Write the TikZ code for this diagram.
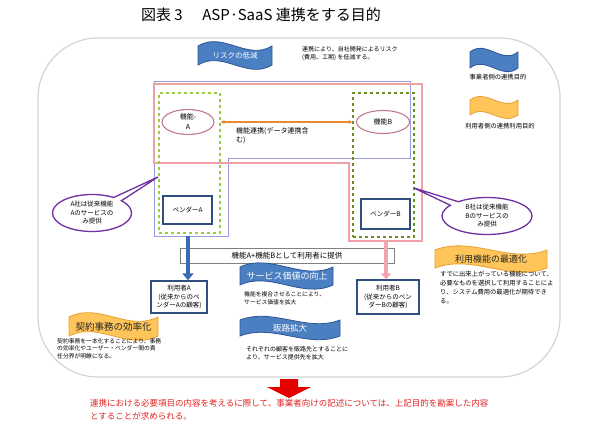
\documentclass[tikz,border=0pt]{standalone}
\usepackage{fontspec}
\setmainfont{Noto Sans CJK JP}
\usetikzlibrary{shapes.geometric,shapes.callouts,arrows.meta,calc}
\definecolor{bannerblue}{HTML}{4A7FC1}
\definecolor{bannerblueline}{HTML}{2F5597}
\definecolor{bannerorange}{HTML}{FFC55A}
\definecolor{bannerorangeline}{HTML}{E8A030}
\definecolor{boxblue}{HTML}{2F4F7F}
\definecolor{lav}{HTML}{9A9ADF}
\definecolor{pinkl}{HTML}{F0A0A8}
\definecolor{ellline}{HTML}{C07A8A}
\definecolor{greenA}{HTML}{99CC44}
\definecolor{greenB}{HTML}{6B8E23}
\definecolor{calloutpurple}{HTML}{7030A0}
\definecolor{arrorange}{HTML}{E88A30}
\definecolor{redtxt}{HTML}{E02020}
\definecolor{framegray}{HTML}{D4D4D4}
\definecolor{arrblue}{HTML}{3A6BB5}
\definecolor{arrpink}{HTML}{F2A5AE}
\newcommand\fs[2]{\fontsize{#1}{#2}\selectfont}
\newcommand\wavebanner[5]{%
  \pgfmathsetmacro\wvA{#1+(#3-#1)/3}%
  \pgfmathsetmacro\wvB{#1+2*(#3-#1)/3}%
  \pgfmathsetmacro\wvH{(#4-#2)*0.8}%
  \draw[#5] (#1,#2) .. controls (\wvA,#2-\wvH) and (\wvB,#2+\wvH) .. (#3,#2)
    -- (#3,#4) .. controls (\wvB,#4+\wvH) and (\wvA,#4-\wvH) .. (#1,#4) -- cycle;}
\tikzset{
  bluebanner/.style={fill=bannerblue, draw=bannerblueline, line width=0.8pt},
  orangebanner/.style={fill=bannerorange, draw=bannerorangeline, line width=0.8pt},
  wtxt/.style={text=white, inner sep=0pt},
  otxt/.style={text=black!85, inner sep=0pt},
  desc/.style={align=left, anchor=north west, inner sep=0pt},
  bluebox/.style={draw=boxblue, line width=1.3pt, fill=white, align=center, inner sep=0pt, font=\fs{6.5}{8.5}},
  func/.style={ellipse, draw=ellline, line width=1.1pt, fill=white, inner sep=0pt, align=center, font=\fs{7}{10}},
  gdashA/.style={draw=greenA, dashed, line width=1.3pt, inner sep=0pt},
  gdashB/.style={draw=greenB, dashed, line width=1.3pt, inner sep=0pt},
  balloon/.style={ellipse callout, draw=calloutpurple, line width=1.3pt, fill=white, align=center, inner sep=0pt, font=\fs{6.5}{8.5}},
  widebox/.style={draw=gray, line width=0.8pt, fill=white, inner sep=0pt, font=\fs{7.5}{9}},
}
\begin{document}
\begin{tikzpicture}[x=1pt,y=-1pt]
\useasboundingbox (0,0) rectangle (600,436);
% title
\node[font=\fs{15}{18}] (title) at (261,15) {図表 3\hspace{1.3em}ASP·SaaS 連携をする目的};
% frame
\draw[framegray, line width=1.2pt, rounded corners=60pt] (38,38) rectangle (560,377);
% polygons
\draw[lav, line width=0.9pt] (154,81) -- (410,81) -- (410,158) -- (228,158) -- (228,236) -- (154,236) -- cycle;
\draw[pinkl, line width=1.4pt] (154,84) -- (422,84) -- (422,241) -- (349,241) -- (349,163) -- (154,163) -- cycle;
\coordinate (pAbot) at (188,236);
\coordinate (pBbot) at (386,241);
% green dashed boxes
\node[gdashA, minimum width=61pt, minimum height=140pt] (gA) at (189.5,163) {};
\node[gdashB, minimum width=61pt, minimum height=144pt] (gB) at (383.5,165) {};
% functions
\node[func, minimum width=52pt, minimum height=25pt] (fA) at (188,122) {機能-\\A};
\node[func, minimum width=53pt, minimum height=23pt] (fB) at (383,122) {機能B};
\draw[arrorange, line width=1.2pt, {Stealth[length=4pt,width=4pt]}-{Stealth[length=4pt,width=4pt]}] (gA.east |- fA) -- (gB.west |- fB);
\node[desc, font=\fs{7}{9.5}] (link) at (236,127) {機能連携(データ連携含\\む)};
% vendors
\node[bluebox, minimum width=49pt, minimum height=28pt] (vA) at (187.5,210) {ベンダーA};
\node[bluebox, minimum width=49pt, minimum height=30pt] (vB) at (385.5,214) {ベンダーB};
% wide box
\node[widebox, minimum width=214pt, minimum height=15pt] (prov) at (287,255.5) {機能A+機能Bとして利用者に提供};
% users
\node[bluebox, minimum width=56pt, minimum height=32pt] (uA) at (179,297) {利用者A\\(従来からのベ\\ンダーAの顧客)};
\node[bluebox, minimum width=62pt, minimum height=34pt] (uB) at (388,297) {利用者B\\(従来からのベン\\ダーBの顧客)};
% thick arrows
\draw[arrblue, line width=4.5pt, -{Triangle[width=11pt,length=7pt]}] (pAbot) -- (pAbot |- uA.north);
\draw[arrpink, line width=4pt, -{Triangle[width=10pt,length=6pt]}] (pBbot) -- (pBbot |- uB.north);
% callouts
\coordinate (tipA) at (158,177);
\coordinate (tipB) at (414,188);
\node[balloon, minimum width=79pt, minimum height=37pt, callout absolute pointer={(tipA)}] (cA) at (92,213) {A社は従来機能\\Aのサービスの\\み提供};
\node[balloon, minimum width=90pt, minimum height=37pt, callout absolute pointer={(tipB)}] (cB) at (487,216) {B社は従来機能\\Bのサービスの\\み提供};
% banners
\wavebanner{198}{46}{272}{65}{bluebanner}
\node[wtxt, font=\fs{7.5}{9}] (risk) at (235,55.5) {リスクの低減};
\node[desc, font=\fs{6}{8}] (riskd) at (302,46) {連携により、自社開発によるリスク\\(費用、工期) を低減する。};
\wavebanner{240}{267}{333}{285}{bluebanner}
\node[wtxt, font=\fs{9}{10}] (sv) at (287,276) {サービス価値の向上};
\node[desc, font=\fs{5.8}{8.5}] (svd) at (244,291) {機能を複合させることにより、\\サービス価値を拡大};
\wavebanner{240}{320}{340}{336}{bluebanner}
\node[wtxt, font=\fs{8.5}{10}] (hanro) at (290,328) {販路拡大};
\node[desc, font=\fs{6}{8}] (hanrod) at (246,346) {それぞれの顧客を販路先とすることに\\より、サービス提供先を拡大};
\wavebanner{435}{250}{547}{268}{orangebanner}
\node[otxt, font=\fs{9}{10}] (opt) at (491,259) {利用機能の最適化};
\node[desc, font=\fs{6.3}{9}] (optd) at (440,271) {すでに出来上がっている機能について、\\必要なものを選択して利用することによ\\り、システム費用の最適化が期待でき\\る。};
\wavebanner{69}{317}{158}{336}{orangebanner}
\node[otxt, font=\fs{9.5}{10}] (kei) at (113.5,326.5) {契約事務の効率化};
\node[desc, font=\fs{5.8}{7.8}] (keid) at (57,338) {契約事務を一本化することにより、事務\\の効率化やユーザー・ベンダー間の責\\任分界が明瞭になる。};
% legend
\wavebanner{470}{52}{518}{68}{bluebanner}
\node[inner sep=0pt, font=\fs{6.3}{8}] (lg1) at (498,77) {事業者側の連携目的};
\wavebanner{470}{100}{518}{115}{orangebanner}
\node[inner sep=0pt, font=\fs{6.3}{8}] (lg2) at (500,126) {利用者側の連携利用目的};
% red arrow and conclusion
\fill[red!90!black] (280,379) -- (298,379) -- (298,387) -- (311,387) -- (289,398) -- (267,387) -- (280,387) -- cycle;
\node[desc, text=redtxt, font=\fs{8.5}{13}] (concl) at (90,399) {連携における必要項目の内容を考えるに際して、事業者向けの記述については、上記目的を勘案した内容\\とすることが求められる。};
\end{tikzpicture}
\end{document}
